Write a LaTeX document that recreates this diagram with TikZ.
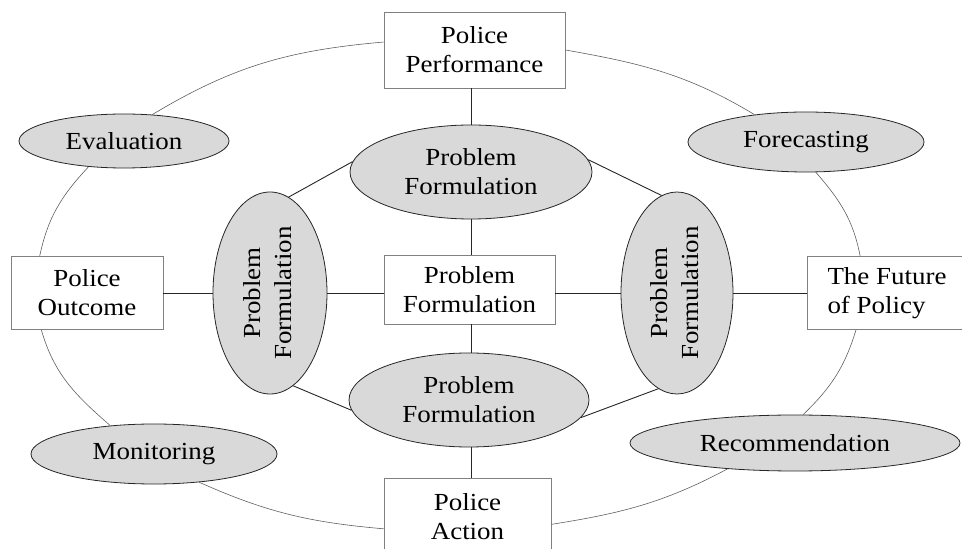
\documentclass[tikz,border=0pt]{standalone}
\usepackage{fontspec}
\setmainfont{Liberation Serif}[FakeStretch=1.1]
\usepackage{graphicx}
\usetikzlibrary{shapes.geometric}
\definecolor{ellfill}{RGB}{217,217,217}
\definecolor{boxline}{RGB}{128,128,128}
\definecolor{rimline}{RGB}{95,95,95}
\newcommand{\vtext}[2]{\rotatebox{90}{\begin{tabular}{@{}c@{}}#1\\[2pt]#2\end{tabular}}}
\begin{document}
\begin{tikzpicture}[x=1pt,y=1pt,
  txt/.style={font=\fontsize{24.5}{29}\selectfont, align=center, inner sep=0pt},
  boxnode/.style={txt, rectangle, draw=boxline, line width=0.9pt, fill=white},
  ellnode/.style={txt, ellipse, draw=black!85, line width=0.8pt, fill=ellfill},
  link/.style={draw=black!85, line width=0.9pt},
  rim/.style={draw=rimline, line width=0.6pt}]
\useasboundingbox (0,0) rectangle (962,549);

% boxes
\node[boxnode, minimum width=181pt, minimum height=76pt] (pp) at (474.5,499) {Police\\Performance};
\node[boxnode, minimum width=152pt, minimum height=73pt] (po) at (87,256) {Police\\Outcome};
\node[boxnode, minimum width=171pt, minimum height=69pt] (pc) at (469.5,259.5) {Problem\\Formulation};
\node[boxnode, minimum width=160pt, minimum height=73pt, align=left] (fp) at (887,256) {The Future\\of Policy};
\node[boxnode, minimum width=167pt, minimum height=78pt] (pa) at (467.5,32) {Police\\Action};

% ellipses
\node[ellnode, minimum width=210pt, minimum height=54pt] (ev) at (124,408) {Evaluation};
\node[ellnode, minimum width=236pt, minimum height=60pt] (fc) at (806,407) {Forecasting};
\node[ellnode, minimum width=246pt, minimum height=60pt] (mo) at (154,95) {Monitoring};
\node[ellnode, minimum width=330pt, minimum height=56pt] (re) at (795,106) {Recommendation};
\node[ellnode, minimum width=242pt, minimum height=94pt] (pt) at (471,377) {Problem\\Formulation};
\node[ellnode, minimum width=240pt, minimum height=94pt] (pb) at (469,149) {Problem\\Formulation};
\node[ellnode, minimum width=114pt, minimum height=202pt] (pl) at (270,256) {\vtext{Problem}{Formulation}};
\node[ellnode, minimum width=112pt, minimum height=202pt] (pr) at (677,256) {\vtext{Problem}{Formulation}};

% straight links
\draw[link] (pp.south -| pt.north) -- (pt.north);
\draw[link] (pt.south) -- (pt.south |- pc.north);
\draw[link] (pc.south -| pt.south) -- (pb.north -| pt.south);
\draw[link] (pb.south -| pt.south) -- (pa.north -| pt.south);
\draw[link] (po.east) -- (pl.west);
\draw[link] (pl.east) -- (pl.east -| pc.west);
\draw[link] (pr.west -| pc.east) -- (pr.west);
\draw[link] (pr.east) -- (fp.west);
\draw[link] (pt.175.7) -- (pl.79.6);
\draw[link] (pt.6.9) -- (pr.99.1);
\draw[link] (pl.284.2) -- (pb.185.1);
\draw[link] (pb.351.4) -- (pr.259.5);

% outer ring
\draw[rim] (pp.175.6) to[out=185, in=31] (ev.43);
\draw[rim] (ev.216) to[out=227, in=78] (po.142.7);
\draw[rim] (po.219) to[out=286, in=139] (mo.147.8);
\draw[rim] (mo.328) to[out=-24, in=175] (pa.188.2);
\draw[rim] (pa.355.2) to[out=9, in=208] (re.201.4);
\draw[rim] (re.74) to[out=44, in=253] (fp.230.6);
\draw[rim] (fp.126.5) to[out=101, in=-49] (fc.288.4);
\draw[rim] (fc.152.6) to[out=149, in=-10] (pp.east);
\end{tikzpicture}
\end{document}
